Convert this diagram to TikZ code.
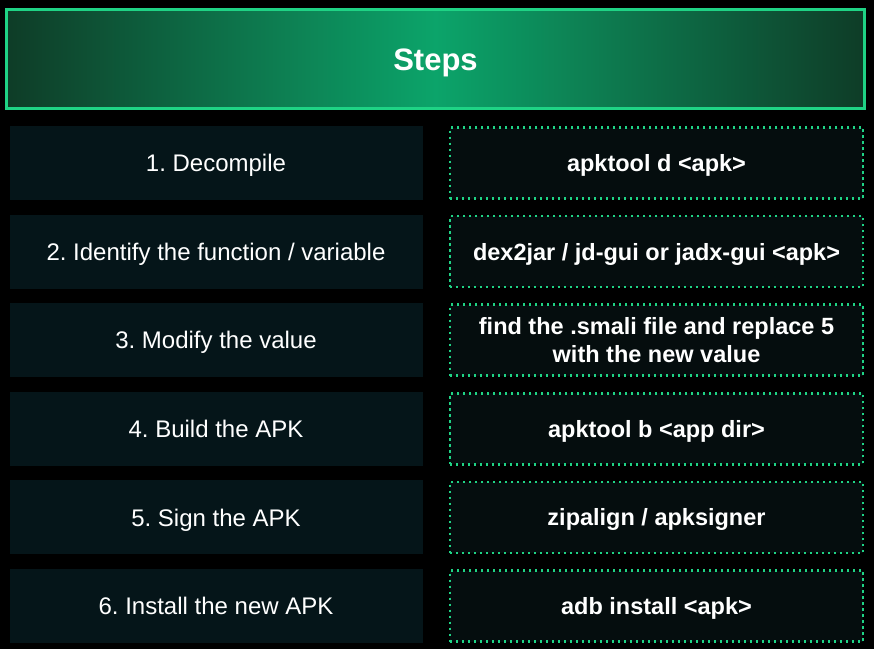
\documentclass[tikz,border=0pt]{standalone}
\usepackage{fontspec}
\setmainfont{Liberation Sans}
\usepackage{xcolor,tikz}
\usetikzlibrary{positioning}
\frenchspacing
\definecolor{mint}{HTML}{1FD385}
\definecolor{forest}{HTML}{0E3C27}
\definecolor{jade}{HTML}{0CA46A}
\definecolor{stepfill}{HTML}{051519}
\definecolor{cmdfill}{HTML}{050D0E}
\tikzset{stepbox/.style={fill=stepfill,text=white,align=center,outer sep=0pt,
  minimum width=413pt,minimum height=74pt,text height=17.3pt,text depth=0pt,
  font=\fontsize{24}{28.5}\selectfont},
  cmdbox/.style={fill=cmdfill,draw=mint,line width=2.5pt,dash pattern=on 2.4pt off 3.6pt,
  text=white,align=center,outer sep=0pt,minimum width=413pt,minimum height=71pt,
  text height=16.9pt,text depth=0pt,font=\bfseries\fontsize{23.5}{28.5}\selectfont},
  titlebox/.style={draw=mint,line width=3pt,left color=forest,right color=forest,
  middle color=jade,text=white,minimum width=858pt,minimum height=99pt,
  text height=22.3pt,text depth=0pt,font=\bfseries\fontsize{31}{36}\selectfont}}

\begin{document}
\begin{tikzpicture}[x=1pt,y=-1pt,node distance=14.6pt and 27.5pt]
\fill[black] (0,0) rectangle (874,649);
\useasboundingbox (0,0) rectangle (874,649);
\node[titlebox] (title) at (435.5,59) {Steps};
\node[stepbox] (decomp) at (216,163) {1. Decompile};
\node[stepbox,below=of decomp] (ident) {2. Identify the function / variable};
\node[stepbox,below=of ident] (modify) {3. Modify the value};
\node[stepbox,below=of modify] (build) {4. Build the APK};
\node[stepbox,below=of build] (sign) {5. Sign the APK};
\node[stepbox,below=of sign] (install) {6. Install the new APK};
\node[cmdbox,right=of decomp] (apkd) {apktool d <apk>};
\node[cmdbox,right=of ident] (dexjar) {dex2jar / jd-gui or jadx-gui <apk>};
\node[cmdbox,right=of modify,text height=45.4pt] (smali) {find the .smali file and replace 5\\with the new value};
\node[cmdbox,right=of build] (apkb) {apktool b <app dir>};
\node[cmdbox,right=of sign] (zipal) {zipalign / apksigner};
\node[cmdbox,right=of install] (adb) {adb install <apk>};
\end{tikzpicture}
\end{document}
